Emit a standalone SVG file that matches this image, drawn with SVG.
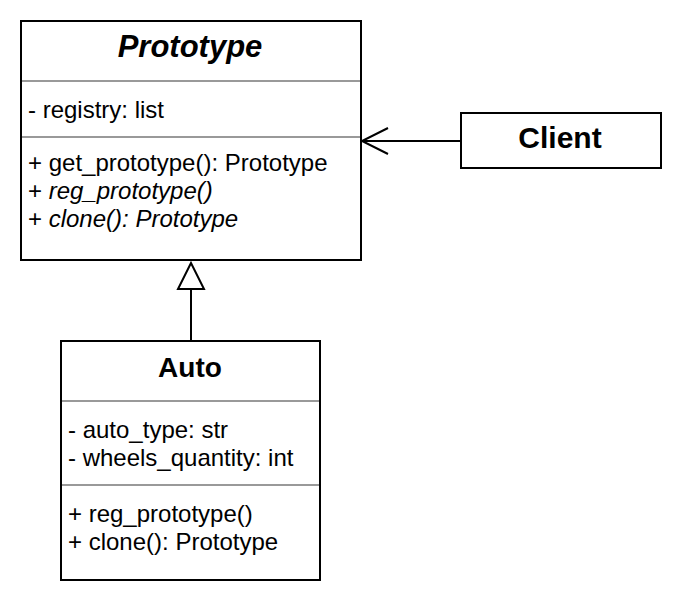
<svg xmlns="http://www.w3.org/2000/svg" width="682" height="604" viewBox="0 0 682 604">
<style>
.box{fill:#fff;stroke:#000;stroke-width:2}
.div{stroke:#999;stroke-width:2}
.t{font-family:"Liberation Sans",Arial,sans-serif;font-size:24px;fill:#000}
.h{font-family:"Liberation Sans",Arial,sans-serif;font-size:28px;font-weight:bold;fill:#000;text-anchor:middle}
.i{font-style:italic}
.c{fill:none;stroke:#000;stroke-width:2}
</style>
<rect width="682" height="604" fill="#fff"/>
<g id="connectors">
<path class="c" d="M461,141 H362"/>
<path class="c" d="M388,128 L362,141 L388,154"/>
<path class="c" d="M191,289 V341"/>
<path class="c" d="M191,263 L178,289 H204 Z" style="fill:#fff"/>
</g>
<g id="prototype">
<rect class="box" x="21" y="21" width="340" height="239"/>
<line class="div" x1="22" y1="81" x2="360" y2="81"/>
<line class="div" x1="22" y1="137" x2="360" y2="137"/>
<text class="h i" x="190" y="57" style="font-size:31px">Prototype</text>
<text class="t" x="28" y="118">- registry: list</text>
<text class="t" x="28" y="171">+ get_prototype(): Prototype</text>
<text class="t" x="28" y="199">+ <tspan class="i">reg_prototype()</tspan></text>
<text class="t" x="28" y="227">+ <tspan class="i">clone(): Prototype</tspan></text>
</g>
<g id="client">
<rect class="box" x="461" y="113" width="200" height="55"/>
<text class="h" x="560" y="148" style="font-size:30px">Client</text>
</g>
<g id="auto">
<rect class="box" x="61" y="341" width="259" height="239"/>
<line class="div" x1="62" y1="401" x2="319" y2="401"/>
<line class="div" x1="62" y1="485" x2="319" y2="485"/>
<text class="h" x="190" y="377" style="font-size:28px">Auto</text>
<text class="t" x="68" y="438">- auto_type: str</text>
<text class="t" x="68" y="466">- wheels_quantity: int</text>
<text class="t" x="68" y="522">+ reg_prototype()</text>
<text class="t" x="68" y="550">+ clone(): Prototype</text>
</g>
</svg>
